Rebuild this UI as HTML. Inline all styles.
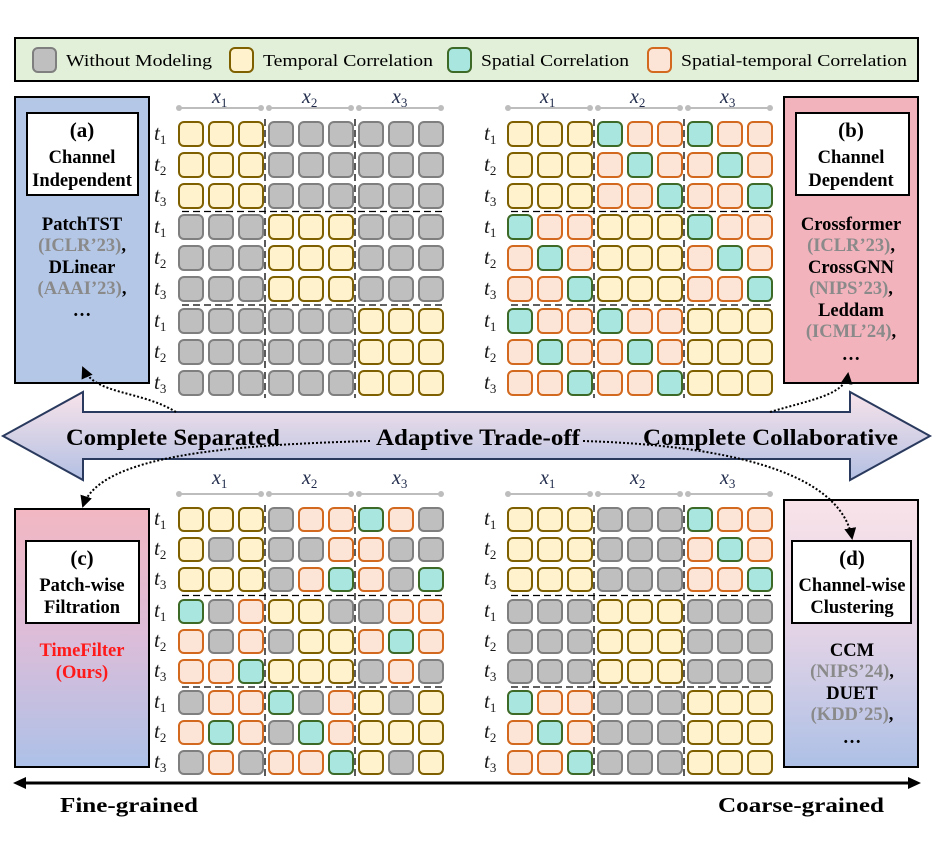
<!DOCTYPE html>
<html><head><meta charset="utf-8"><style>
html,body{margin:0;padding:0;background:#fff;}
svg{display:block;}
.bt{font-family:"Liberation Serif",serif;font-weight:bold;fill:#000;}
.gr{fill:#8a8a8a;}
.tl{font-family:"Liberation Serif",serif;font-style:italic;font-size:21px;fill:#1a1a1a;}
.xl{font-family:"Liberation Serif",serif;font-style:italic;font-size:20px;fill:#1f2a4a;}
</style></head><body>
<svg id="s" width="934" height="850" viewBox="0 0 934 850" xmlns="http://www.w3.org/2000/svg">
<defs>
<linearGradient id="ga" x1="0" y1="0" x2="0" y2="1"><stop offset="0" stop-color="#f8e3ea"/><stop offset="1" stop-color="#b3c0e3"/></linearGradient>
<linearGradient id="gc" x1="0" y1="0" x2="0" y2="1"><stop offset="0" stop-color="#f2b7c2"/><stop offset="0.5" stop-color="#dcbdd9"/><stop offset="1" stop-color="#adc1e8"/></linearGradient>
<linearGradient id="gd" x1="0" y1="0" x2="0" y2="1"><stop offset="0" stop-color="#f9e3e9"/><stop offset="0.5" stop-color="#e2d3e6"/><stop offset="1" stop-color="#adc0e6"/></linearGradient>
<marker id="bh" markerWidth="6" markerHeight="6" refX="5" refY="3" orient="auto"><path d="M0,0 L6,3 L0,6 z" fill="#000"/></marker>
</defs>

<rect x="15" y="38" width="903" height="43" fill="#e2efd9" stroke="#000" stroke-width="2"/>
<rect x="33" y="48" width="23" height="24" rx="5" fill="#bfbfbf" stroke="#7f7f7f" stroke-width="2"/>
<text x="66" y="66" font-family="Liberation Serif" font-size="17" textLength="146" lengthAdjust="spacingAndGlyphs">Without Modeling</text>
<rect x="230" y="48" width="23" height="24" rx="5" fill="#fff2cc" stroke="#7f6000" stroke-width="2"/>
<text x="263" y="66" font-family="Liberation Serif" font-size="17" textLength="170" lengthAdjust="spacingAndGlyphs">Temporal Correlation</text>
<rect x="448" y="48" width="23" height="24" rx="5" fill="#a9e6df" stroke="#3e6a28" stroke-width="2"/>
<text x="481" y="66" font-family="Liberation Serif" font-size="17" textLength="148" lengthAdjust="spacingAndGlyphs">Spatial Correlation</text>
<rect x="648" y="48" width="23" height="24" rx="5" fill="#fce4d6" stroke="#d2691e" stroke-width="2"/>
<text x="681" y="66" font-family="Liberation Serif" font-size="17" textLength="226" lengthAdjust="spacingAndGlyphs">Spatial-temporal Correlation</text>

<rect x="15" y="97" width="134" height="286" fill="#b4c7e7" stroke="#000" stroke-width="2"/>
<rect x="27" y="113" width="111" height="82" fill="#fff" stroke="#000" stroke-width="2"/>
<g class="bt" font-size="18.5" text-anchor="middle">
<text x="82" y="137" font-size="21">(a)</text>
<text x="82" y="163">Channel</text>
<text x="82" y="186">Independent</text>
<text x="82" y="230">PatchTST</text>
<text x="82" y="251"><tspan class="gr">(ICLR’23)</tspan>,</text>
<text x="82" y="273">DLinear</text>
<text x="82" y="294"><tspan class="gr">(AAAI’23)</tspan>,</text>
<text x="82" y="316">…</text>
</g>

<rect x="784" y="97" width="134" height="286" fill="#f2b3bc" stroke="#000" stroke-width="2"/>
<rect x="796" y="113" width="113" height="82" fill="#fff" stroke="#000" stroke-width="2"/>
<g class="bt" font-size="18.5" text-anchor="middle">
<text x="851" y="137" font-size="21">(b)</text>
<text x="851" y="163">Channel</text>
<text x="851" y="186">Dependent</text>
<text x="851" y="230">Crossformer</text>
<text x="851" y="251"><tspan class="gr">(ICLR’23)</tspan>,</text>
<text x="851" y="273">CrossGNN</text>
<text x="851" y="294"><tspan class="gr">(NIPS’23)</tspan>,</text>
<text x="851" y="316">Leddam</text>
<text x="851" y="337"><tspan class="gr">(ICML’24)</tspan>,</text>
<text x="851" y="360">…</text>
</g>

<rect x="15" y="509" width="134" height="258" fill="url(#gc)" stroke="#000" stroke-width="2"/>
<rect x="26" y="541" width="113" height="82" fill="#fff" stroke="#000" stroke-width="2"/>
<g class="bt" font-size="18.5" text-anchor="middle">
<text x="82" y="565" font-size="21">(c)</text>
<text x="82" y="591">Patch-wise</text>
<text x="82" y="613">Filtration</text>
<text x="82" y="656" style="fill:#ff1a1a">TimeFilter</text>
<text x="82" y="678" style="fill:#ff1a1a">(Ours)</text>
</g>

<rect x="784" y="500" width="134" height="267" fill="url(#gd)" stroke="#000" stroke-width="2"/>
<rect x="792" y="541" width="119" height="82" fill="#fff" stroke="#000" stroke-width="2"/>
<g class="bt" font-size="18.5" text-anchor="middle">
<text x="852" y="565" font-size="21">(d)</text>
<text x="852" y="591">Channel-wise</text>
<text x="852" y="613">Clustering</text>
<text x="852" y="656">CCM</text>
<text x="852" y="677"><tspan class="gr">(NIPS’24)</tspan>,</text>
<text x="852" y="699">DUET</text>
<text x="852" y="720"><tspan class="gr">(KDD’25)</tspan>,</text>
<text x="852" y="743">…</text>
</g>

<polygon points="3,436 83,392 83,412 850,412 850,392 930,436 850,480 850,459 83,459 83,480" fill="url(#ga)" stroke="#2a3a5e" stroke-width="2"/>
<g class="bt" font-size="23">
<text x="66" y="445" textLength="214" lengthAdjust="spacingAndGlyphs">Complete Separated</text>
<text x="376" y="445" textLength="204" lengthAdjust="spacingAndGlyphs">Adaptive Trade-off</text>
<text x="643" y="445" textLength="255" lengthAdjust="spacingAndGlyphs">Complete Collaborative</text>
</g>

<g fill="none" stroke="#000" stroke-width="2" stroke-dasharray="2,2">
<path d="M176,412 C140,390 95,395 83,368" marker-end="url(#bh)"/>
<path d="M770,412 C810,400 845,395 848,374" marker-end="url(#bh)"/>
<path d="M370,441 C230,445 100,455 83,506" marker-end="url(#bh)"/>
<path d="M583,441 C720,445 840,470 852,538" marker-end="url(#bh)"/>
</g>

<line x1="22" y1="783" x2="912" y2="783" stroke="#000" stroke-width="3"/>
<polygon points="13,783 26,777 26,789" fill="#000"/>
<polygon points="921,783 908,777 908,789" fill="#000"/>
<text class="bt" x="60" y="812" font-size="21" textLength="138" lengthAdjust="spacingAndGlyphs">Fine-grained</text>
<text class="bt" x="718" y="812" font-size="21" textLength="166" lengthAdjust="spacingAndGlyphs">Coarse-grained</text>

<g class="xl">
<text x="212" y="103">x<tspan font-size="13" dy="4" font-style="normal">1</tspan></text>
<text x="302" y="103">x<tspan font-size="13" dy="4" font-style="normal">2</tspan></text>
<text x="392" y="103">x<tspan font-size="13" dy="4" font-style="normal">3</tspan></text>
<text x="540" y="103">x<tspan font-size="13" dy="4" font-style="normal">1</tspan></text>
<text x="630" y="103">x<tspan font-size="13" dy="4" font-style="normal">2</tspan></text>
<text x="720" y="103">x<tspan font-size="13" dy="4" font-style="normal">3</tspan></text>
<text x="212" y="484">x<tspan font-size="13" dy="4" font-style="normal">1</tspan></text>
<text x="302" y="484">x<tspan font-size="13" dy="4" font-style="normal">2</tspan></text>
<text x="392" y="484">x<tspan font-size="13" dy="4" font-style="normal">3</tspan></text>
<text x="540" y="484">x<tspan font-size="13" dy="4" font-style="normal">1</tspan></text>
<text x="630" y="484">x<tspan font-size="13" dy="4" font-style="normal">2</tspan></text>
<text x="720" y="484">x<tspan font-size="13" dy="4" font-style="normal">3</tspan></text>
</g>
<g class="tl">
<text x="154" y="140">t<tspan font-size="13" dy="4" font-style="normal">1</tspan></text>
<text x="154" y="171">t<tspan font-size="13" dy="4" font-style="normal">2</tspan></text>
<text x="154" y="202">t<tspan font-size="13" dy="4" font-style="normal">3</tspan></text>
<text x="154" y="233">t<tspan font-size="13" dy="4" font-style="normal">1</tspan></text>
<text x="154" y="264">t<tspan font-size="13" dy="4" font-style="normal">2</tspan></text>
<text x="154" y="295">t<tspan font-size="13" dy="4" font-style="normal">3</tspan></text>
<text x="154" y="327">t<tspan font-size="13" dy="4" font-style="normal">1</tspan></text>
<text x="154" y="358">t<tspan font-size="13" dy="4" font-style="normal">2</tspan></text>
<text x="154" y="389">t<tspan font-size="13" dy="4" font-style="normal">3</tspan></text>
<text x="484" y="140">t<tspan font-size="13" dy="4" font-style="normal">1</tspan></text>
<text x="484" y="171">t<tspan font-size="13" dy="4" font-style="normal">2</tspan></text>
<text x="484" y="202">t<tspan font-size="13" dy="4" font-style="normal">3</tspan></text>
<text x="484" y="233">t<tspan font-size="13" dy="4" font-style="normal">1</tspan></text>
<text x="484" y="264">t<tspan font-size="13" dy="4" font-style="normal">2</tspan></text>
<text x="484" y="295">t<tspan font-size="13" dy="4" font-style="normal">3</tspan></text>
<text x="484" y="327">t<tspan font-size="13" dy="4" font-style="normal">1</tspan></text>
<text x="484" y="358">t<tspan font-size="13" dy="4" font-style="normal">2</tspan></text>
<text x="484" y="389">t<tspan font-size="13" dy="4" font-style="normal">3</tspan></text>
<text x="154" y="525">t<tspan font-size="13" dy="4" font-style="normal">1</tspan></text>
<text x="154" y="555">t<tspan font-size="13" dy="4" font-style="normal">2</tspan></text>
<text x="154" y="585">t<tspan font-size="13" dy="4" font-style="normal">3</tspan></text>
<text x="154" y="617">t<tspan font-size="13" dy="4" font-style="normal">1</tspan></text>
<text x="154" y="647">t<tspan font-size="13" dy="4" font-style="normal">2</tspan></text>
<text x="154" y="677">t<tspan font-size="13" dy="4" font-style="normal">3</tspan></text>
<text x="154" y="708">t<tspan font-size="13" dy="4" font-style="normal">1</tspan></text>
<text x="154" y="738">t<tspan font-size="13" dy="4" font-style="normal">2</tspan></text>
<text x="154" y="768">t<tspan font-size="13" dy="4" font-style="normal">3</tspan></text>
<text x="484" y="525">t<tspan font-size="13" dy="4" font-style="normal">1</tspan></text>
<text x="484" y="555">t<tspan font-size="13" dy="4" font-style="normal">2</tspan></text>
<text x="484" y="585">t<tspan font-size="13" dy="4" font-style="normal">3</tspan></text>
<text x="484" y="617">t<tspan font-size="13" dy="4" font-style="normal">1</tspan></text>
<text x="484" y="647">t<tspan font-size="13" dy="4" font-style="normal">2</tspan></text>
<text x="484" y="677">t<tspan font-size="13" dy="4" font-style="normal">3</tspan></text>
<text x="484" y="708">t<tspan font-size="13" dy="4" font-style="normal">1</tspan></text>
<text x="484" y="738">t<tspan font-size="13" dy="4" font-style="normal">2</tspan></text>
<text x="484" y="768">t<tspan font-size="13" dy="4" font-style="normal">3</tspan></text>
</g>
<g id="cells"></g>
</svg>
<script>
(function(){
var NS="http://www.w3.org/2000/svg",g=document.getElementById("cells");
var C={G:["#bfbfbf","#7f7f7f"],Y:["#fff2cc","#7f6000"],C:["#a9e6df","#3e6a28"],O:["#fce4d6","#d2691e"]};
function el(t,a){var e=document.createElementNS(NS,t);for(var k in a)e.setAttribute(k,a[k]);g.appendChild(e);return e;}
var A=[],B=[],D=[];
for(var r=0;r<9;r++){var a="",b="",d="";for(var c=0;c<9;c++){var rb=Math.floor(r/3),cb=Math.floor(c/3),ri=r%3,ci=c%3;
a+=(rb==cb)?"Y":"G";
b+=(rb==cb)?"Y":(ri==ci?"C":"O");
var dd;if(rb==cb)dd="Y";else if((rb==0&&cb==2)||(rb==2&&cb==0))dd=(ri==ci?"C":"O");else dd="G";d+=dd;}
A.push(a);B.push(b);D.push(d);}
var Cc=["YYYGOOCOG","YGYGGOOGG","YYYGOCOGC","CGOYYGGOO","OGOGYYOCO","OOCYYYGOG","GOOCGOYGY","OCOGCOYYY","GOGOOCYGY"];
function panel(P,x0,ys,h,lineY){
 var xs=[];for(var cb=0;cb<3;cb++)for(var ci=0;ci<3;ci++)xs.push(x0+cb*90+ci*30);
 for(var cb=0;cb<3;cb++){var lx=x0+cb*90+1;el("line",{x1:lx,y1:lineY,x2:lx+82,y2:lineY,stroke:"#bdbdbd","stroke-width":2});
  el("circle",{cx:lx,cy:lineY,r:3,fill:"#bdbdbd"});el("circle",{cx:lx+82,cy:lineY,r:3,fill:"#bdbdbd"});}
 for(var i=1;i<3;i++){var vx=x0+i*90-3;el("line",{x1:vx,y1:ys[0]-2,x2:vx,y2:ys[8]+h+2,stroke:"#000","stroke-width":1.3,"stroke-dasharray":"7,4"});
  var hy=(ys[i*3-1]+h+ys[i*3])/2;el("line",{x1:x0+4,y1:hy,x2:x0+268,y2:hy,stroke:"#000","stroke-width":1.3,"stroke-dasharray":"7,4"});}
 for(var r=0;r<9;r++)for(var c=0;c<9;c++){var k=C[P[r][c]];
  el("rect",{x:xs[c]+1,y:ys[r]+1,width:24,height:h-2,rx:5,fill:k[0],stroke:k[1],"stroke-width":2});}
}
var yt=[121,152,183,214,245,276,308,339,370],yb=[507,537,567,599,629,659,690,720,750];
panel(A,178,yt,26,108);panel(B,507,yt,26,108);panel(Cc,178,yb,25,494);panel(D,507,yb,25,494);
})();
</script>
</body></html>
